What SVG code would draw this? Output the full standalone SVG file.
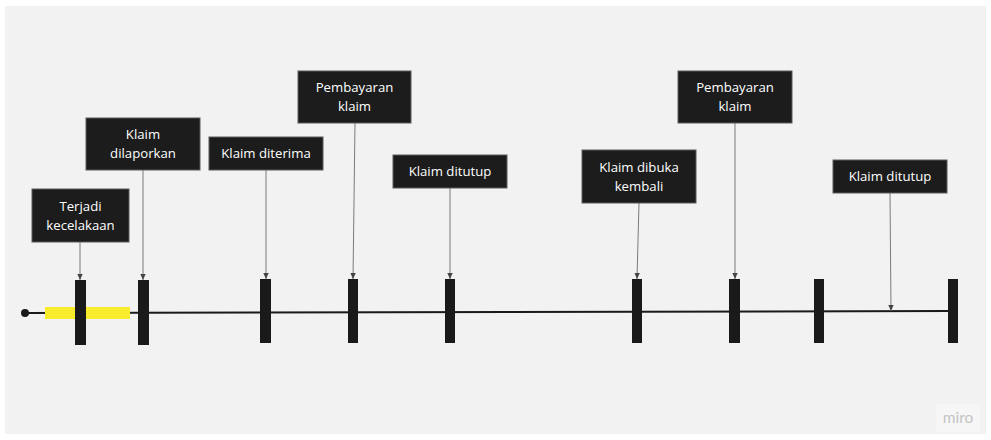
<svg xmlns="http://www.w3.org/2000/svg" width="991" height="440" viewBox="0 0 991 440">
<defs>
<style>
.box{fill:#1c1c1c;stroke:#5a5a5a;stroke-width:1}
.lbl{fill:#ffffff;font-family:"Open Sans","Noto Sans","DejaVu Sans",sans-serif;font-size:13.2px;text-anchor:middle}
.bar{fill:#1a1a1a}
.con{stroke:#7a7a7a;stroke-width:1;fill:none;marker-end:url(#ah)}
</style>
<marker id="ah" viewBox="0 0 10 10" refX="9" refY="5" markerWidth="7" markerHeight="7" orient="auto" markerUnits="userSpaceOnUse">
<path d="M0,1 L9,5 L0,9 z" fill="#444"/>
</marker>
</defs>
<rect x="0" y="0" width="991" height="440" fill="#ffffff"/>
<rect x="5" y="6" width="981" height="428" fill="#f2f2f2"/>

<g id="timeline">
<line x1="25" y1="313" x2="950" y2="311" stroke="#1a1a1a" stroke-width="2"/>
<circle cx="25" cy="313" r="4" fill="#1a1a1a"/>
<rect x="45" y="307" width="85" height="12" fill="#f8ec2c"/>
<rect class="bar" x="75" y="280" width="11" height="65"/>
<rect class="bar" x="138" y="280" width="11" height="65"/>
<rect class="bar" x="260" y="279" width="11" height="64"/>
<rect class="bar" x="348" y="279" width="10" height="64"/>
<rect class="bar" x="445" y="279" width="10" height="64"/>
<rect class="bar" x="632" y="279" width="10" height="64"/>
<rect class="bar" x="729" y="279" width="11" height="64"/>
<rect class="bar" x="814" y="279" width="10" height="64"/>
<rect class="bar" x="948" y="279" width="10" height="64"/>
</g>

<g id="connectors">
<line class="con" x1="80" y1="242" x2="80" y2="280"/>
<line class="con" x1="143" y1="170" x2="143" y2="280"/>
<line class="con" x1="266" y1="170" x2="266" y2="279"/>
<line class="con" x1="355" y1="123" x2="353" y2="279"/>
<line class="con" x1="450" y1="188" x2="450" y2="279"/>
<line class="con" x1="639" y1="203" x2="637" y2="279"/>
<line class="con" x1="735" y1="123" x2="735" y2="279"/>
<line class="con" x1="890" y1="193" x2="891" y2="311"/>
</g>

<g id="n1"><rect class="box" x="32" y="189" width="97" height="53"/>
<text class="lbl" x="80.5" y="211">Terjadi</text><text class="lbl" x="80.5" y="230">kecelakaan</text></g>
<g id="n2"><rect class="box" x="86" y="118" width="114" height="52"/>
<text class="lbl" x="143" y="139">Klaim</text><text class="lbl" x="143" y="158">dilaporkan</text></g>
<g id="n3"><rect class="box" x="209" y="137" width="114" height="33"/>
<text class="lbl" x="266" y="158">Klaim diterima</text></g>
<g id="n4"><rect class="box" x="298" y="71" width="113" height="52"/>
<text class="lbl" x="354.5" y="92">Pembayaran</text><text class="lbl" x="354.5" y="111">klaim</text></g>
<g id="n5"><rect class="box" x="393" y="155" width="114" height="33"/>
<text class="lbl" x="450" y="176">Klaim ditutup</text></g>
<g id="n6"><rect class="box" x="582" y="150" width="114" height="53"/>
<text class="lbl" x="639" y="172">Klaim dibuka</text><text class="lbl" x="639" y="191">kembali</text></g>
<g id="n7"><rect class="box" x="678" y="71" width="114" height="52"/>
<text class="lbl" x="735" y="92">Pembayaran</text><text class="lbl" x="735" y="111">klaim</text></g>
<g id="n8"><rect class="box" x="833" y="160" width="114" height="33"/>
<text class="lbl" x="890" y="181">Klaim ditutup</text></g>

<g id="watermark">
<rect x="936" y="404" width="44" height="28" fill="#f6f6f6"/>
<text x="958" y="423" font-family="Lato,'Open Sans',sans-serif" font-size="15.5" fill="#c4c4c4" text-anchor="middle">miro</text>
</g>
</svg>
